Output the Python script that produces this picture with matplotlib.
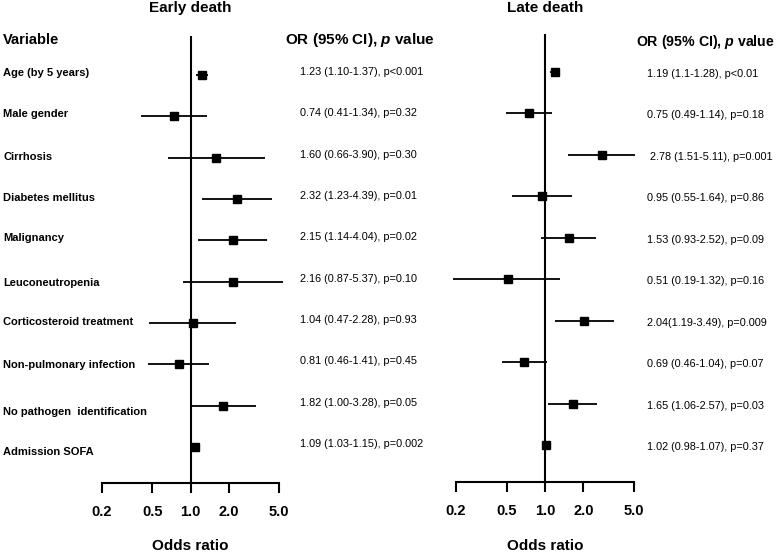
import matplotlib
matplotlib.use("Agg")
import matplotlib.pyplot as plt
from matplotlib.transforms import blended_transform_factory
import numpy as np

plt.rcParams['font.family'] = ['Liberation Sans', 'DejaVu Sans']
plt.rcParams['mathtext.fontset'] = 'custom'
plt.rcParams['mathtext.it'] = 'Liberation Sans:italic:bold'
plt.rcParams['mathtext.rm'] = 'Liberation Sans:bold'

variables = ["Age (by 5 years)", "Male gender", "Cirrhosis", "Diabetes mellitus",
             "Malignancy", "Leuconeutropenia", "Corticosteroid treatment",
             "Non-pulmonary infection", "No pathogen  identification", "Admission SOFA"]

early_or = [1.23, 0.74, 1.60, 2.32, 2.15, 2.16, 1.04, 0.81, 1.82, 1.09]
early_lo = [1.10, 0.41, 0.66, 1.23, 1.14, 0.87, 0.47, 0.46, 1.00, 1.03]
early_hi = [1.37, 1.34, 3.90, 4.39, 4.04, 5.37, 2.28, 1.41, 3.28, 1.15]
early_txt = ["1.23 (1.10-1.37), p<0.001", "0.74 (0.41-1.34), p=0.32",
             "1.60 (0.66-3.90), p=0.30", "2.32 (1.23-4.39), p=0.01",
             "2.15 (1.14-4.04), p=0.02", "2.16 (0.87-5.37), p=0.10",
             "1.04 (0.47-2.28), p=0.93", "0.81 (0.46-1.41), p=0.45",
             "1.82 (1.00-3.28), p=0.05", "1.09 (1.03-1.15), p=0.002"]

late_or = [1.19, 0.75, 2.78, 0.95, 1.53, 0.51, 2.04, 0.69, 1.65, 1.02]
late_lo = [1.10, 0.49, 1.51, 0.55, 0.93, 0.19, 1.19, 0.46, 1.06, 0.98]
late_hi = [1.28, 1.14, 5.11, 1.64, 2.52, 1.32, 3.49, 1.04, 2.57, 1.07]
late_txt = ["1.19 (1.1-1.28), p<0.01", "0.75 (0.49-1.14), p=0.18",
            " 2.78 (1.51-5.11), p=0.001", "0.95 (0.55-1.64), p=0.86",
            "1.53 (0.93-2.52), p=0.09", "0.51 (0.19-1.32), p=0.16",
            "2.04(1.19-3.49), p=0.009", "0.69 (0.46-1.04), p=0.07",
            "1.65 (1.06-2.57), p=0.03", "1.02 (0.98-1.07), p=0.37"]

ticks = [0.2, 0.5, 1.0, 2.0, 5.0]
tick_labels = ["0.2", "0.5", "1.0", "2.0", "5.0"]

W, H = 778, 552
fig = plt.figure(figsize=(W / 100, H / 100), dpi=100)


def make_panel(xc, scale, ybase, ytop, yrow0, yrow9, ors, los, his, txts, txt_x, txt_dy, title):
    # xc: pixel of OR=1, scale: px per decade
    x0 = xc - scale  # 0.1
    x1 = xc + scale  # 10
    ax = fig.add_axes([x0 / W, (H - ybase) / H, (x1 - x0) / W, (ybase - ytop) / H])
    ax.set_facecolor('none')
    ax.set_xscale('log')
    ax.set_xlim(0.1, 10)
    sp = (yrow9 - yrow0) / 9.0
    ax.set_ylim(9 + (ybase - yrow9) / sp, -(yrow0 - ytop) / sp)
    n = len(ors)
    y = np.arange(n)
    ax.hlines(y, los, his, color='black', lw=1.3)
    ax.plot(ors, y, 's', color='black', ms=6)
    ax.axvline(1.0, color='black', lw=1.5)
    for s in ['top', 'right', 'left']:
        ax.spines[s].set_visible(False)
    ax.spines['bottom'].set_bounds(0.2, 5.0)
    ax.spines['bottom'].set_linewidth(1.5)
    ax.set_yticks([])
    ax.set_xticks(ticks)
    ax.set_xticklabels(tick_labels, fontsize=10.5, fontweight='bold')
    ax.xaxis.set_minor_locator(matplotlib.ticker.NullLocator())
    ax.tick_params(axis='x', length=7.5, width=1.5, pad=8)
    tr = blended_transform_factory(fig.transFigure, ax.transData)
    for i, t in enumerate(txts):
        ax.text(txt_x / W, i + txt_dy / sp, t, transform=tr, fontsize=7.8,
                ha='left', va='center')
    fig.text(xc / W, 1 - 8 / H, title, fontsize=11, fontweight='bold', ha='center', va='center')
    fig.text(xc / W, 1 - 546 / H, "Odds ratio", fontsize=11, fontweight='bold', ha='center', va='center')
    return ax, tr, sp


axL, trL, spL = make_panel(190.5, 126.6, 483, 36, 75, 447, early_or, early_lo, early_hi,
                           early_txt, 300, -3, "Early death")
axR, trR, spR = make_panel(545, 127.5, 482, 34, 72, 445, late_or, late_lo, late_hi,
                           late_txt, 647, 2, "Late death")

label_dy = [-2, -2, -1, -1, -2, 1, -1, 1, 6, 5]
for i, v in enumerate(variables):
    axL.text(3 / W, i + label_dy[i] / spL, v, transform=trL, fontsize=8, fontweight='bold',
             ha='left', va='center')

fig.text(3 / W, 1 - 40 / H, "Variable", fontsize=10.5, fontweight='bold', ha='left', va='center')
fig.text(285 / W, 1 - 40 / H, r"OR (95% CI), $p$ value", fontsize=11, fontweight='bold',
         ha='left', va='center')
fig.text(636 / W, 1 - 42 / H, r"OR (95% CI), $p$ value", fontsize=10.2, fontweight='bold',
         ha='left', va='center')

fig.savefig("out.png", dpi=100, facecolor='white')
